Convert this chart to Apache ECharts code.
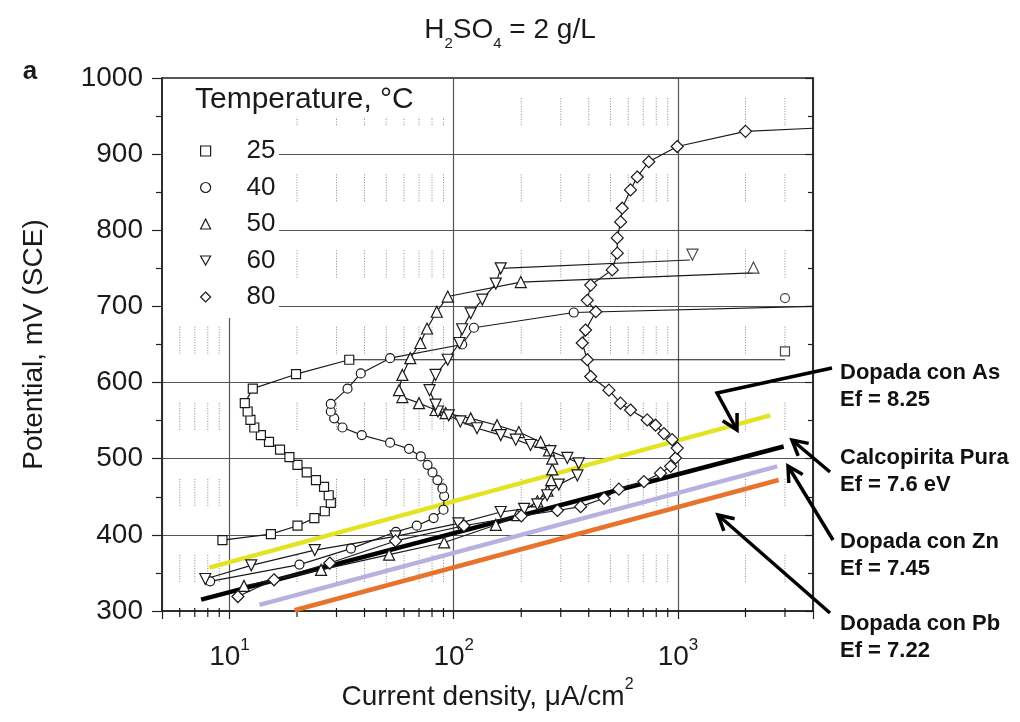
<!DOCTYPE html>
<html>
<head>
<meta charset="utf-8">
<script src="https://cdn.jsdelivr.net/npm/echarts@6/dist/echarts.min.js"></script>
<style>
  html, body { margin: 0; padding: 0; background: #fff; }
  #chart { width: 1020px; height: 722px; }
</style>
</head>
<body>
<div id="chart"></div>
<script>
// polarisation curves, current density (uA/cm2) vs potential (mV SCE)
const t25 = [[9.3,393],[15.3,401],[20.1,412],[23.9,422],[26.6,431],[28.3,442],[27.7,452],[26.4,463],[24.3,472],[22.1,482],[20.1,492],[18.5,502],[16.8,512],[15.0,522],[13.8,531],[12.9,541],[12.4,551],[12.05,562],[11.7,573],[12.7,592],[19.8,611],[34.2,630]]
const t40 = [[8.2,339],[20.5,361],[34.8,382],[55.2,404],[68.4,412],[81.3,422],[90,433],[90.6,451],[89,461],[84.6,472],[80.4,482],[76.4,492],[71.3,503],[63.2,513],[52,521],[38.9,531],[31.9,541],[29.3,553],[28.3,562],[28.3,572],[33.6,592],[38.5,612],[52,632],[109,650],[123,672],[343,692]]
const t50 = [[11.6,333],[25.6,354],[51.5,374],[90.6,390],[154,413],[192,426],[236,444],[262,458],[272,472],[275,486],[275,500],[266,511],[244,522],[195,535],[156,544],[119,553],[92,560],[83,564],[70,573],[59,581],[57,590],[59,610],[64,632],[71,652],[76,671],[84,693],[94,713],[199,732]]
const t60 = [[7.8,342],[12.5,360],[24,380],[55,398],[105,415],[162,430],[206,434],[236,440],[261,452],[294,466],[356,478],[361,494],[321,501],[270,510],[220,518],[189,525],[162,531],[127,540],[107,549],[95,557],[85,562],[83,571],[78,590],[83,610],[94,630],[106,652],[109,670],[119,691],[134,709],[154,730],[162,750]]
const t80 = [[10.9,319],[15.8,341],[28,363],[55,392],[111,412],[200,425],[290,432],[368,437],[468,448],[545,460],[705,470],[836,481],[927,490],[975,501],[992,514],[942,525],[865,533],[794,544],[729,551],[614,564],[554,573],[492,590],[408,608],[394,630],[374,652],[387,669],[430,693],[394,708],[408,728],[509,748],[536,770],[536,790],[555,811],[564,829],[614,853],[658,870],[741,890],[992,910],[2000,930]]
// where each connecting line runs on to, and the lone last symbol
const tailLine = { "25": [3000,630], "40": [4000,700], "50": [2150,744], "60": [1130,761], "80": [4000,934] }
const lastPoint = { "25": [3000,641], "40": [3000,711], "50": [2170,751], "60": [1160,768] }

// Fermi level guide lines
const lineAs = [[8.13,357],[2580,557]]
const linePura = [[7.47,315],[2960,516]]
const lineZn = [[13.6,308],[2770,490]]
const linePb = [[19.5,301],[2810,472]]

const temps = ["25","40","50","60","80"]
const xMinor = [6,7,8,9,20,30,40,50,60,70,80,90,200,300,400,500,600,700,800,900,2000,3000]
const yBands = [300,400,500,600,700,800,900]

const font = "'Liberation Sans', Arial, sans-serif"
const ink = "#1a1a1a"
const chart = echarts.init(document.getElementById("chart"))

const symbols = { "25": "rect", "40": "circle", "50": "triangle", "60": "triangle", "80": "diamond" }
const sizes = { "25": 9, "40": 9, "50": 11, "60": 11, "80": 12 }
const dataOf = { "25": t25, "40": t40, "50": t50, "60": t60, "80": t80 }

const markStyle = { color: "#fff", borderColor: ink, borderWidth: 1.2 }

let series = []

// dotted minor grid pieces + minor ticks on the log axis
series.push({
  type: "custom",
  silent: true,
  z: 1,
  data: xMinor.map(v => [v, 300]),
  renderItem: (params, api) => {
    const x = api.value(0)
    const kids = []
    yBands.forEach(b => {
      const p1 = api.coord([x, b + 38])
      const p2 = api.coord([x, b + 75])
      kids.push({ type: "line", shape: { x1: p1[0], y1: p1[1], x2: p2[0], y2: p2[1] },
        style: { stroke: "#8a8a8a", lineWidth: 1, lineDash: [1, 1.6] } })
    })
    const a = api.coord([x, 300])
    kids.push({ type: "line", shape: { x1: a[0], y1: a[1] - 3, x2: a[0], y2: a[1] + 6 },
      style: { stroke: ink, lineWidth: 1.2 } })
    return { type: "group", children: kids }
  }
})

const guides = [
  ["As", lineAs, "#e3e322"],
  ["Pura", linePura, "#000000"],
  ["Zn", lineZn, "#b9b0e0"],
  ["Pb", linePb, "#e8732c"]
]
guides.forEach(g => {
  series.push({
    name: g[0], type: "line", data: g[1], symbol: "none", silent: true, z: 3,
    lineStyle: { color: g[2], width: 4.5 }
  })
})

temps.forEach(t => {
  const pts = dataOf[t].map(p => p)
  pts.push({ value: tailLine[t], symbol: "none" })
  series.push({
    name: t, type: "line", data: pts, z: 4,
    symbol: symbols[t], symbolSize: sizes[t], symbolRotate: t === "60" ? 180 : 0,
    showAllSymbol: true,
    lineStyle: { color: ink, width: 1.2 },
    itemStyle: markStyle
  })
  if (lastPoint[t]) {
    series.push({
      name: t, type: "scatter", data: [lastPoint[t]], z: 4,
      symbol: symbols[t], symbolSize: sizes[t], symbolRotate: t === "60" ? 180 : 0,
      itemStyle: markStyle
    })
  }
})

const legendIcons = { "25": "rect", "40": "circle", "50": "triangle", "60": "path://M0,0L10,0L5,9Z", "80": "diamond" }

// arrows beside the labels, pixel layout
const arrows = [
  [[832,368],[717,393],[737,430]],
  [[830,472],[792,440]],
  [[833,540],[788,466]],
  [[830,613],[718,515]]
]
function head(path) {
  const tip = path[path.length - 1], from = path[path.length - 2]
  const ang = Math.atan2(tip[1] - from[1], tip[0] - from[0])
  const L = 17, w = 0.5
  return [
    [tip[0] - L * Math.cos(ang - w), tip[1] - L * Math.sin(ang - w)],
    tip,
    [tip[0] - L * Math.cos(ang + w), tip[1] - L * Math.sin(ang + w)]
  ]
}
let graphics = [
  { type: "rect", z: 3, shape: { x: 163, y: 79, width: 116, height: 239 }, style: { fill: "#fff" } },
  { type: "rect", z: 3, shape: { x: 163, y: 79, width: 285, height: 38 }, style: { fill: "#fff" } },
  { type: "text", z: 5, x: 195, y: 100, style: { text: "Temperature, °C", font: "30px " + font, fill: ink, verticalAlign: "middle" } },
  { type: "text", z: 5, x: 30, y: 72, style: { text: "a", font: "bold 26px " + font, fill: ink, align: "center", verticalAlign: "middle" } }
]
const notes = [
  ["Dopada con As\nEf = 8.25", 373],
  ["Calcopirita Pura\nEf = 7.6 eV", 458],
  ["Dopada con Zn\nEf = 7.45", 542],
  ["Dopada con Pb\nEf = 7.22", 624]
]
notes.forEach(n => {
  graphics.push({ type: "text", z: 5, x: 840, y: n[1] - 13.5,
    style: { text: n[0], font: "bold 22px " + font, fill: "#111", lineHeight: 27, verticalAlign: "top" } })
})
arrows.forEach(a => {
  graphics.push({ type: "polyline", z: 5, shape: { points: a }, style: { stroke: "#000", lineWidth: 3.5, fill: null } })
  graphics.push({ type: "polyline", z: 5, shape: { points: head(a) }, style: { stroke: "#000", lineWidth: 3.5, fill: null } })
})

const option = {
  backgroundColor: "#fff",
  animation: false,
  textStyle: { fontFamily: font },
  title: {
    text: "{n|H}{s|2}{n|SO}{s|4}{n| = 2 g/L}",
    left: "center",
    top: 11,
    textStyle: {
      fontWeight: "normal",
      rich: {
        n: { fontSize: 28, lineHeight: 30, verticalAlign: "top", fontWeight: "normal", color: ink, fontFamily: font },
        s: { fontSize: 15, lineHeight: 56, fontWeight: "normal", color: ink, fontFamily: font }
      }
    }
  },
  grid: { left: 162, right: 207, top: 78, bottom: 111, show: true, borderColor: "#222", borderWidth: 1.5, outerBoundsMode: "none" },
  legend: {
    orient: "vertical", left: 195, top: 133, itemGap: 10.5, itemWidth: 10, itemHeight: 10,
    selectedMode: false, z: 6,
    data: temps.map(t => ({ name: t, icon: legendIcons[t] })),
    itemStyle: { color: "#fff", borderColor: ink, borderWidth: 1.2 },
    formatter: "{t|{name}}",
    textStyle: { rich: { t: { fontSize: 26, lineHeight: 26, padding: [0, 0, 0, 31], color: ink, fontFamily: font } } }
  },
  xAxis: {
    type: "log", logBase: 10, min: 5, max: 4000,
    name: "{b|Current density, μA/cm}{sup|2}",
    nameLocation: "middle", nameGap: 66,
    nameTextStyle: { rich: {
      b: { fontSize: 28, lineHeight: 34, verticalAlign: "bottom", color: ink, fontFamily: font },
      sup: { fontSize: 16, lineHeight: 16, verticalAlign: "top", color: ink, fontFamily: font }
    } },
    axisLine: { lineStyle: { color: "#222", width: 1.5 } },
    axisTick: { length: 8, lineStyle: { color: "#222", width: 1.2 } },
    splitLine: { show: true, lineStyle: { color: "#555", width: 1.2 } },
    axisLabel: {
      margin: 26,
      formatter: v => {
        const e = Math.round(Math.log10(v))
        if (Math.abs(v - Math.pow(10, e)) > 1e-6 * v) return ""
        return "{b|10}{sup|" + e + "}"
      },
      rich: {
        b: { fontSize: 28, lineHeight: 34, verticalAlign: "bottom", color: ink, fontFamily: font },
        sup: { fontSize: 17, lineHeight: 17, verticalAlign: "top", color: ink, fontFamily: font }
      }
    }
  },
  yAxis: [
    {
      type: "value", min: 300, max: 1000, interval: 100,
      name: "Potential, mV (SCE)", nameLocation: "middle", nameGap: 114,
      nameTextStyle: { fontSize: 28, color: ink, fontFamily: font },
      axisLine: { show: true, lineStyle: { color: "#222", width: 1.5 } },
      axisTick: { show: true, length: 10, lineStyle: { color: "#222", width: 1.2 } },
      minorTick: { show: true, splitNumber: 2, length: 6, lineStyle: { color: "#222", width: 1.2 } },
      splitLine: { show: true, lineStyle: { color: "#555", width: 1.2 } },
      axisLabel: { fontSize: 28, margin: 19, color: ink, formatter: v => String(v) }
    },
    {
      type: "value", min: 300, max: 1000, interval: 100, position: "right",
      axisLine: { show: true, lineStyle: { color: "#222", width: 1.5 } },
      axisTick: { show: true, inside: true, length: 8, lineStyle: { color: "#222", width: 1.2 } },
      minorTick: { show: true, splitNumber: 2, length: 5, lineStyle: { color: "#222", width: 1.2 } },
      splitLine: { show: false },
      axisLabel: { show: false }
    }
  ],
  graphic: { elements: graphics },
  series: series
}
chart.setOption(option)
window.onresize = () => { chart.resize() }
</script>
</body>
</html>
